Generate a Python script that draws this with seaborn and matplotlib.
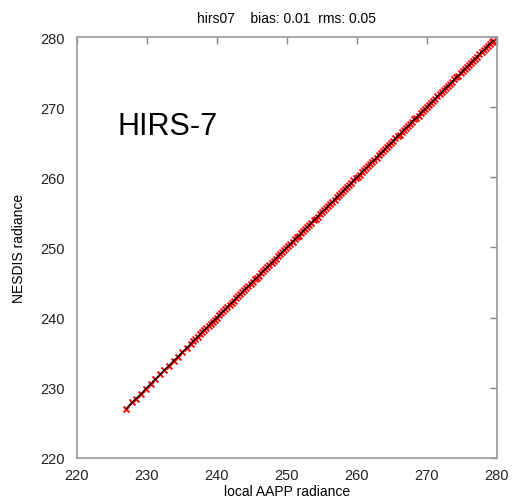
import matplotlib
matplotlib.use('Agg')
import matplotlib.pyplot as plt
import seaborn as sns
import pandas as pd

# Данные: локальные AAPP и NESDIS радиансы (hirs07)
local_aapp = [227.0, 227.9, 228.4, 229.1, 229.8, 230.6, 231.2, 231.9, 232.5, 233.1,
              233.8, 234.4, 235.0, 235.7, 236.3, 236.9, 237.6, 238.2, 238.8, 239.4,
              240.0, 240.6, 241.2, 241.8, 242.4, 243.0, 243.6, 244.2, 244.8, 245.4,
              246.0, 246.6, 247.2, 247.8, 248.4, 249.0, 249.6, 250.2, 250.8, 251.4,
              252.0, 252.6, 253.2, 253.8, 254.4, 255.0, 255.6, 256.2, 256.8, 257.4,
              258.0, 258.6, 259.2, 259.8, 260.4, 261.0, 261.6, 262.2, 262.8, 263.4,
              264.0, 264.6, 265.2, 265.8, 266.4, 267.0, 267.6, 268.2, 268.8, 269.4,
              270.0, 270.6, 271.2, 271.8, 272.4, 273.0, 273.6, 274.2, 274.8, 275.4,
              276.0, 276.6, 277.2, 277.8, 278.4, 279.0, 279.5]
nesdis = [227.0, 227.95, 228.4, 229.05, 229.85, 230.6, 231.25, 231.9, 232.55, 233.1,
          233.85, 234.4, 235.05, 235.7, 236.3, 236.95, 237.6, 238.25, 238.8, 239.45,
          240.0, 240.65, 241.2, 241.85, 242.4, 243.05, 243.6, 244.25, 244.8, 245.45,
          246.0, 246.65, 247.2, 247.85, 248.4, 249.05, 249.6, 250.25, 250.8, 251.45,
          252.0, 252.65, 253.2, 253.85, 254.4, 255.05, 255.6, 256.25, 256.8, 257.45,
          258.0, 258.65, 259.2, 259.85, 260.4, 261.05, 261.6, 262.25, 262.8, 263.45,
          264.0, 264.65, 265.2, 265.85, 266.4, 267.05, 267.6, 268.25, 268.8, 269.45,
          270.0, 270.65, 271.2, 271.85, 272.4, 273.05, 273.6, 274.25, 274.8, 275.45,
          276.0, 276.65, 277.2, 277.85, 278.4, 279.05, 279.5]
# дополнительные точки между основными (плотная часть)
local_extra = [236.6, 237.3, 237.9, 238.5, 239.1, 239.7, 240.3, 240.9, 241.5, 242.1,
               242.7, 243.3, 243.9, 244.5, 245.1, 245.7, 246.3, 246.9, 247.5, 248.1,
               248.7, 249.3, 249.9, 250.5, 251.1, 251.7, 252.3, 252.9, 253.5, 254.1,
               254.7, 255.3, 255.9, 256.5, 257.1, 257.7, 258.3, 258.9, 259.5, 260.1,
               260.7, 261.3, 261.9, 262.5, 263.1, 263.7, 264.3, 264.9, 265.5, 266.1,
               266.7, 267.3, 267.9, 268.5, 269.1, 269.7, 270.3, 270.9, 271.5, 272.1,
               272.7, 273.3, 273.9, 274.5, 275.1, 275.7, 276.3, 276.9, 277.5, 278.1,
               278.7, 279.3]
nesdis_extra = [236.65, 237.3, 237.95, 238.5, 239.15, 239.7, 240.35, 240.9, 241.55, 242.1,
                242.75, 243.3, 243.95, 244.5, 245.15, 245.7, 246.35, 246.9, 247.55, 248.1,
                248.75, 249.3, 249.95, 250.5, 251.15, 251.7, 252.35, 252.9, 253.55, 254.1,
                254.75, 255.3, 255.95, 256.5, 257.15, 257.7, 258.35, 258.9, 259.55, 260.1,
                260.75, 261.3, 261.95, 262.5, 263.15, 263.7, 264.35, 264.9, 265.55, 266.1,
                266.75, 267.3, 267.95, 268.5, 269.15, 269.7, 270.35, 270.9, 271.55, 272.1,
                272.75, 273.3, 273.95, 274.5, 275.15, 275.7, 276.35, 276.9, 277.55, 278.1,
                278.75, 279.3]

ticks = [220, 230, 240, 250, 260, 270, 280]

df = pd.DataFrame({'local': local_aapp + local_extra, 'nesdis': nesdis + nesdis_extra})
df = df.sort_values('local')

sns.set_style('white')
plt.rcParams['font.family'] = ['Liberation Sans', 'DejaVu Sans']
plt.rcParams['text.color'] = 'black'
plt.rcParams['axes.labelcolor'] = 'black'
plt.rcParams['xtick.color'] = 'black'
plt.rcParams['ytick.color'] = 'black'

fig = plt.figure(figsize=(5.14, 5.02), dpi=100)
ax = fig.add_axes([0.1498, 0.0857, 0.817, 0.8386])

# Красные крестики и чёрная линия поверх
sns.scatterplot(data=df, x='local', y='nesdis', marker='x', color='red',
                s=18, linewidth=1.4, ax=ax, zorder=2)
sns.lineplot(data=df, x='local', y='nesdis', color='black', linewidth=1.1,
             ax=ax, zorder=3, sort=True)

ax.set_xlim(220, 280)
ax.set_ylim(220, 280)
ax.set_xticks(ticks)
ax.set_yticks(ticks)
ax.tick_params(direction='in', length=5, width=1, colors='#888888', labelcolor='#222222',
               labelsize=10.5, top=True, right=True, labeltop=False, labelright=False)
ax.tick_params(axis='x', pad=7)
ax.tick_params(axis='y', pad=9)
for sp in ax.spines.values():
    sp.set_color('#999999')
    sp.set_linewidth(1.2)

ax.set_xlabel('local AAPP radiance', fontsize=10, labelpad=2)
ax.set_ylabel('NESDIS radiance', fontsize=10, labelpad=10)
ax.set_title('hirs07    bias: 0.01  rms: 0.05', fontsize=10, pad=11)
ax.text(225.8, 267.3, 'HIRS-7', fontsize=22, va='center', ha='left')

fig.savefig('out.png', dpi=100)
